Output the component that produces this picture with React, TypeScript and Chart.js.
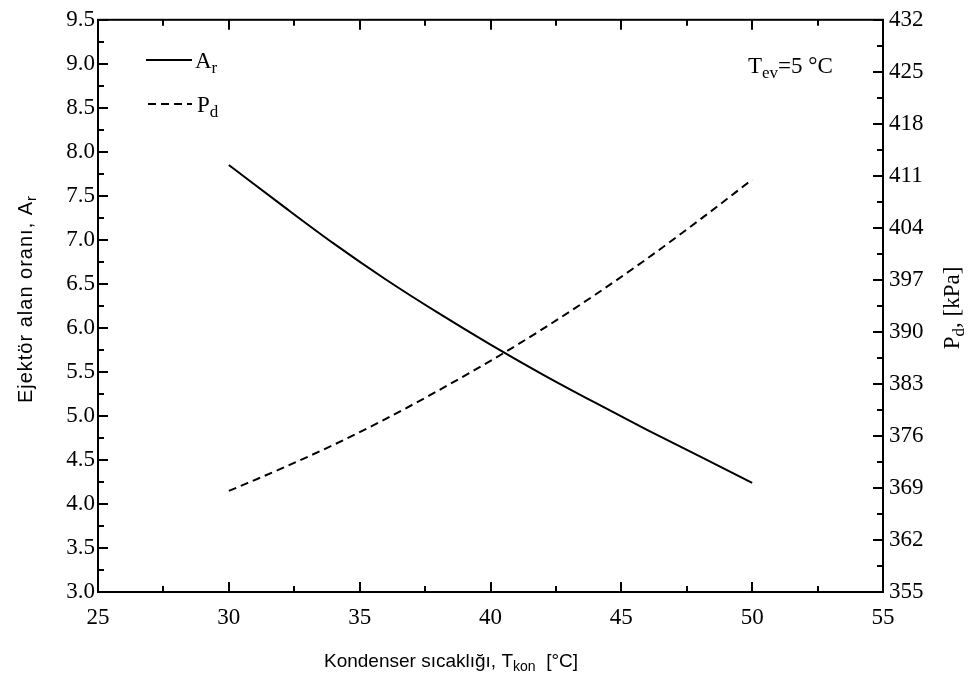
import React, { useEffect, useRef } from 'react';
import { Chart, registerables } from 'chart.js';
Chart.register(...registerables);

const xValues = [30, 32, 34, 36, 38, 40, 42, 44, 46, 48, 50];
const arValues = [7.85, 7.4, 6.96, 6.55, 6.17, 5.81, 5.47, 5.15, 4.84, 4.54, 4.24];
const pdValues = [368.6, 371.6, 374.8, 378.3, 382.1, 386.1, 390.4, 395.0, 399.9, 405.1, 410.5];

const xMajorTicks = [25, 30, 35, 40, 45, 50, 55];
const xMinorTicks = [27.5, 32.5, 37.5, 42.5, 47.5, 52.5];
const leftMajorTicks = [3.0, 3.5, 4.0, 4.5, 5.0, 5.5, 6.0, 6.5, 7.0, 7.5, 8.0, 8.5, 9.0, 9.5];
const leftMinorTicks = [3.25, 3.75, 4.25, 4.75, 5.25, 5.75, 6.25, 6.75, 7.25, 7.75, 8.25, 8.75, 9.25];
const rightMajorTicks = [355, 362, 369, 376, 383, 390, 397, 404, 411, 418, 425, 432];
const rightMinorTicks = [358.5, 365.5, 372.5, 379.5, 386.5, 393.5, 400.5, 407.5, 414.5, 421.5, 428.5];

const SERIF = '"Liberation Serif", "Times New Roman", serif';
const SANS = '"Liberation Sans", Arial, sans-serif';

type Part = { t: string; sub?: boolean };

function drawRich(
  ctx: CanvasRenderingContext2D,
  parts: Part[],
  x: number,
  y: number,
  font: string,
  subFont: string,
  subDy: number,
  align: 'left' | 'center',
  spacing = 0
) {
  (ctx as any).letterSpacing = spacing + 'px';
  let total = 0;
  const widths = parts.map((p) => {
    ctx.font = p.sub ? subFont : font;
    const w = ctx.measureText(p.t).width;
    total += w;
    return w;
  });
  let cx = align === 'center' ? x - total / 2 : x;
  ctx.textAlign = 'left';
  ctx.textBaseline = 'alphabetic';
  parts.forEach((p, i) => {
    ctx.font = p.sub ? subFont : font;
    ctx.fillText(p.t, cx, y + (p.sub ? subDy : 0));
    cx += widths[i];
  });
  (ctx as any).letterSpacing = '0px';
}

const framePlugin = {
  id: 'framePlugin',
  afterDraw(chart: any) {
    const ctx: CanvasRenderingContext2D = chart.ctx;
    const { left, right, top, bottom } = chart.chartArea;
    const xs = chart.scales.x;
    const ys = chart.scales.y;
    const y1 = chart.scales.y1;
    ctx.save();
    ctx.strokeStyle = '#000';
    ctx.fillStyle = '#000';
    ctx.lineWidth = 2;
    ctx.setLineDash([]);
    ctx.strokeRect(left, top, right - left, bottom - top);

    const line = (x0: number, y0: number, x1: number, y1p: number) => {
      ctx.beginPath();
      ctx.moveTo(x0, y0);
      ctx.lineTo(x1, y1p);
      ctx.stroke();
    };
    const MAJ = 10;
    const MIN = 6;
    xMajorTicks.forEach((v) => {
      const p = Math.round(xs.getPixelForValue(v));
      line(p, bottom, p, bottom - MAJ);
      line(p, top, p, top + MAJ);
    });
    xMinorTicks.forEach((v) => {
      const p = Math.round(xs.getPixelForValue(v));
      line(p, bottom, p, bottom - MIN);
      line(p, top, p, top + MIN);
    });
    leftMajorTicks.forEach((v) => {
      const p = Math.round(ys.getPixelForValue(v));
      line(left, p, left + MAJ, p);
    });
    leftMinorTicks.forEach((v) => {
      const p = Math.round(ys.getPixelForValue(v));
      line(left, p, left + MIN, p);
    });
    rightMajorTicks.forEach((v) => {
      const p = Math.round(y1.getPixelForValue(v));
      line(right, p, right - MAJ, p);
    });
    rightMinorTicks.forEach((v) => {
      const p = Math.round(y1.getPixelForValue(v));
      line(right, p, right - MIN, p);
    });

    // legend
    const ds = chart.data.datasets;
    const legendRows = [
      { y: 60, x0: 146, x1: 192, tx: 195, dash: ds[0].borderDash || [], parts: [{ t: 'A' }, { t: 'r', sub: true }] },
      { y: 104, x0: 148, x1: 192, tx: 197, dash: ds[1].borderDash || [], parts: [{ t: 'P' }, { t: 'd', sub: true }] },
    ];
    legendRows.forEach((r) => {
      ctx.lineWidth = 2;
      ctx.setLineDash(r.dash);
      line(r.x0, r.y, r.x1, r.y);
      ctx.setLineDash([]);
      drawRich(ctx, r.parts, r.tx, r.y + 8, `23px ${SERIF}`, `17px ${SERIF}`, 5, 'left');
    });

    // annotation
    drawRich(
      ctx,
      [{ t: 'T' }, { t: 'ev', sub: true }, { t: '=5 °C' }],
      748,
      73,
      `23px ${SERIF}`,
      `17px ${SERIF}`,
      5,
      'left'
    );

    // bottom title
    drawRich(
      ctx,
      [{ t: 'Kondenser sıcaklığı, T' }, { t: 'kon', sub: true }, { t: '  [°C]' }],
      451,
      667,
      `19px ${SANS}`,
      `14px ${SANS}`,
      4,
      'center'
    );

    // left title
    ctx.save();
    ctx.translate(32, 299);
    ctx.rotate(-Math.PI / 2);
    drawRich(
      ctx,
      [{ t: 'Ejektör alan oranı, A' }, { t: 'r', sub: true }],
      0,
      0,
      `20px ${SANS}`,
      `15px ${SANS}`,
      4,
      'center',
      1
    );
    ctx.restore();

    // right title
    ctx.save();
    ctx.translate(959, 308);
    ctx.rotate(-Math.PI / 2);
    drawRich(
      ctx,
      [{ t: 'P' }, { t: 'd', sub: true }, { t: ', [kPa]' }],
      0,
      0,
      `23px ${SERIF}`,
      `17px ${SERIF}`,
      5,
      'center'
    );
    ctx.restore();
    ctx.restore();
  },
};

export default function App() {
  const ref = useRef<HTMLCanvasElement | null>(null);
  useEffect(() => {
    if (!ref.current) return;
    const chart = new Chart(ref.current, {
      type: 'line',
      data: {
        datasets: [
          {
            label: 'Ar',
            data: xValues.map((x, i) => ({ x, y: arValues[i] })),
            yAxisID: 'y',
            borderColor: '#000',
            borderWidth: 2,
            pointRadius: 0,
            tension: 0.4,
            cubicInterpolationMode: 'monotone',
            fill: false,
          },
          {
            label: 'Pd',
            data: xValues.map((x, i) => ({ x, y: pdValues[i] })),
            yAxisID: 'y1',
            borderColor: '#000',
            borderWidth: 2,
            borderDash: [8, 5],
            pointRadius: 0,
            tension: 0.4,
            cubicInterpolationMode: 'monotone',
            fill: false,
          },
        ],
      },
      options: {
        animation: false,
        responsive: false,
        devicePixelRatio: 1,
        layout: { padding: { top: 16, left: 0, right: 0, bottom: 0 } },
        plugins: { legend: { display: false }, tooltip: { enabled: false } },
        scales: {
          x: {
            type: 'linear',
            min: 25,
            max: 55,
            grid: { display: false, drawTicks: false },
            border: { display: false },
            afterFit: (s: any) => {
              s.height = 84;
            },
            afterBuildTicks: (s: any) => {
              s.ticks = xMajorTicks.map((v) => ({ value: v }));
            },
            ticks: {
              color: '#000',
              font: { family: SERIF, size: 23 },
              padding: 12,
              maxRotation: 0,
              callback: (v: any) => String(v),
            },
          },
          y: {
            type: 'linear',
            position: 'left',
            min: 3,
            max: 9.5,
            grid: { display: false, drawTicks: false },
            border: { display: false },
            afterFit: (s: any) => {
              s.width = 98;
            },
            afterBuildTicks: (s: any) => {
              s.ticks = leftMajorTicks.map((v) => ({ value: v }));
            },
            ticks: {
              color: '#000',
              font: { family: SERIF, size: 23 },
              padding: 3,
              callback: (v: any) => Number(v).toFixed(1),
            },
          },
          y1: {
            type: 'linear',
            position: 'right',
            min: 355,
            max: 432,
            grid: { display: false, drawTicks: false },
            border: { display: false },
            afterFit: (s: any) => {
              s.width = 90;
            },
            afterBuildTicks: (s: any) => {
              s.ticks = rightMajorTicks.map((v) => ({ value: v }));
            },
            ticks: {
              color: '#000',
              font: { family: SERIF, size: 23 },
              padding: 6,
              callback: (v: any) => String(v),
            },
          },
        },
      },
      plugins: [framePlugin],
    } as any);
    return () => chart.destroy();
  }, []);
  return (
    <div style={{ position: 'absolute', left: 0, top: 0, width: 973, height: 676, background: '#fff' }}>
      <canvas ref={ref} width={973} height={676} style={{ display: 'block' }} />
    </div>
  );
}
